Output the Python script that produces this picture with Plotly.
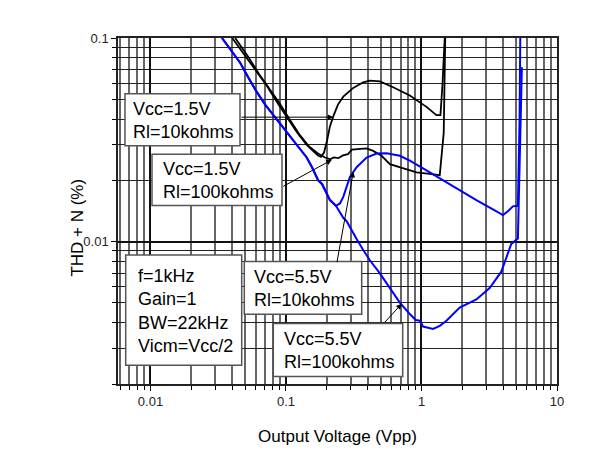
import math
import plotly.graph_objects as go

# ---------------- data (Vpp, THD+N %) ----------------
v15_10k_x = [0.0401, 0.05, 0.061, 0.0722, 0.0855, 0.1014, 0.1201, 0.1422, 0.1583, 0.1723, 0.1814,
             0.1908, 0.2008, 0.2112, 0.2234, 0.2419, 0.2647, 0.3135, 0.3715, 0.4162, 0.4931,
             0.6177, 0.82, 1.088, 1.29, 1.38, 1.427, 1.484]
v15_10k_y = [0.1, 0.0819, 0.0679, 0.0583, 0.0487, 0.0412, 0.0346, 0.0299, 0.028, 0.0265, 0.0261,
             0.0274, 0.0313, 0.0369, 0.0412, 0.0471, 0.0515, 0.0569, 0.0606, 0.0617, 0.0612,
             0.0573, 0.0522, 0.0459, 0.0418, 0.0418, 0.0583, 0.1]

v15_100k_x = [0.0422, 0.0526, 0.0634, 0.0751, 0.0889, 0.1054, 0.1249, 0.148, 0.1723, 0.194, 0.2112,
              0.226, 0.2431, 0.2633, 0.2866, 0.3067, 0.3513, 0.3936, 0.4401, 0.5076, 0.5842,
              0.692, 0.9188, 1.151, 1.364, 1.459, 1.497]
v15_100k_y = [0.1, 0.081, 0.0664, 0.0569, 0.0482, 0.0403, 0.0338, 0.0293, 0.0271, 0.0259, 0.0254,
              0.0259, 0.0257, 0.0265, 0.0269, 0.0283, 0.0284, 0.0287, 0.0279, 0.0264, 0.024,
              0.0232, 0.0219, 0.0215, 0.0212, 0.0342, 0.1]

v55_10k_x = [0.0337, 0.0375, 0.041, 0.0459, 0.0526, 0.061, 0.0702, 0.0808, 0.0952, 0.1134, 0.127,
             0.1422, 0.1557, 0.173, 0.1844, 0.2112, 0.2338, 0.2502, 0.2647, 0.2965, 0.3321,
             0.3936, 0.4662, 0.5525, 0.692, 0.82, 1.088, 1.442, 1.914, 2.541, 3.367, 3.989,
             4.342, 4.726, 5.145, 5.296, 5.358]
v55_10k_y = [0.1, 0.0905, 0.0829, 0.0756, 0.0642, 0.0542, 0.0471, 0.0418, 0.0361, 0.0312, 0.0283,
             0.0259, 0.0232, 0.02, 0.0192, 0.016, 0.015, 0.0154, 0.0166, 0.0208, 0.0232,
             0.0259, 0.0271, 0.0272, 0.0264, 0.025, 0.0224, 0.02, 0.0179, 0.016, 0.0144, 0.0135,
             0.0141, 0.0149, 0.015, 0.0403, 0.1]

v55_100k_x = [0.0337, 0.0375, 0.041, 0.0459, 0.0526, 0.061, 0.0702, 0.0808, 0.0952, 0.1134, 0.127,
              0.1422, 0.1557, 0.173, 0.1844, 0.2112, 0.2338, 0.2431, 0.2647, 0.2804, 0.3135,
              0.3321, 0.3696, 0.4162, 0.4931, 0.5842, 0.692, 0.82, 0.908, 0.9716, 1.0275,
              1.217, 1.364, 1.528, 1.914, 2.541, 3.184, 3.882, 4.226, 4.599, 5.145, 5.207, 5.506]
v55_100k_y = [0.1, 0.0905, 0.0829, 0.0756, 0.0642, 0.0542, 0.0471, 0.0418, 0.0361, 0.0312, 0.0283,
              0.0259, 0.0232, 0.02, 0.0192, 0.016, 0.015, 0.0144, 0.0131, 0.0126, 0.0109,
              0.0103, 0.00915, 0.0081, 0.00699, 0.00592, 0.00502, 0.00441, 0.00412, 0.00409, 0.00383,
              0.00373, 0.00386, 0.00409, 0.00475, 0.0052, 0.00592, 0.00712, 0.00826, 0.00975, 0.01037,
              0.0149, 0.0718]

x_tick_vals = [0.01, 0.1, 1, 10]
x_tick_text = ["0.01", "0.1", "1", "10"]
y_tick_vals = [0.01, 0.1]
y_tick_text = ["0.01", "0.1"]

x_title = "Output Voltage (Vpp)"
y_title = "THD + N (%)"
label_a = "Vcc=1.5V<br>Rl=10kohms"
label_b = "Vcc=1.5V<br>Rl=100kohms"
label_c = "Vcc=5.5V<br>Rl=10kohms"
label_d = "Vcc=5.5V<br>Rl=100kohms"
cond_text = "f=1kHz<br>Gain=1<br>BW=22kHz<br>Vicm=Vcc/2"

# ---------------- layout geometry ----------------
OFF = 8  # page body margin
W, H = 605 - OFF, 455 - OFF
PW, PH = 439, 354
ML, MT = 118 - OFF, 38 - OFF
MR, MB = W - ML - PW, H - MT - PH


def px(x):
    return (x - OFF - ML) / PW


def py(y):
    return (MT + PH - (y - OFF)) / PH


FONT = "Liberation Sans, Arial, sans-serif"

fig = go.Figure()
fig.add_trace(go.Scatter(x=v15_10k_x, y=v15_10k_y, mode="lines",
                         line=dict(color="black", width=1.8), showlegend=False))
fig.add_trace(go.Scatter(x=v15_100k_x, y=v15_100k_y, mode="lines",
                         line=dict(color="black", width=1.8), showlegend=False))
fig.add_trace(go.Scatter(x=v55_10k_x, y=v55_10k_y, mode="lines",
                         line=dict(color="#0000ff", width=2), showlegend=False))
fig.add_trace(go.Scatter(x=v55_100k_x, y=v55_100k_y, mode="lines",
                         line=dict(color="#0000ff", width=2), showlegend=False))

minor_x = [k * 10 ** e for e in range(-3, 1) for k in range(2, 10)]
minor_x = [v for v in minor_x if 0.0058 <= v <= 10]
minor_y = [k * 10 ** e for e in range(-3, -1) for k in range(2, 10)]

# boxes: (x0, y0, x1, y1, text_left, text) in reference pixels
boxes = [
    (125, 95, 240, 148.3, 130.5, label_a),
    (152, 157, 282, 209.3, 160.5, label_b),
    (125.7, 260, 241.7, 372.7, 135.5, cond_text),
    (244.3, 266.7, 361.7, 320.7, 251.5, label_c),
    (273.3, 330, 402.7, 384.3, 281.5, label_d),
]
shapes = []
annotations = []
for x0, y0, x1, y1, tl, txt in boxes:
    shapes.append(dict(type="rect", xref="paper", yref="paper",
                       x0=px(x0), x1=px(x1), y0=py(y1), y1=py(y0),
                       fillcolor="white", line=dict(color="#555555", width=1.5),
                       layer="above"))
    annotations.append(dict(xref="paper", yref="paper", x=px(tl), y=py((y0 + y1) / 2 + 1),
                            xanchor="left", yanchor="middle", align="left",
                            text=txt, showarrow=False,
                            font=dict(family=FONT, size=18, color="black")))

# arrows: head (x, y), tail (x, y) in reference pixels
arrows = [
    ((333.3, 119), (240, 119)),
    ((331.7, 162.7), (281.7, 190)),
    ((353.3, 175), (336.7, 266.7)),
    ((401.7, 310), (383.3, 330)),
]
for (hx, hy), (tx, ty) in arrows:
    annotations.append(dict(xref="paper", yref="paper", x=px(hx), y=py(hy),
                            ax=tx - hx, ay=ty - hy, axref="pixel", ayref="pixel",
                            text="", showarrow=True, arrowhead=2, arrowsize=1.1,
                            arrowwidth=1, arrowcolor="black", standoff=0))

# y axis title
annotations.append(dict(xref="paper", yref="paper", x=px(78), y=py(232),
                        xanchor="center", yanchor="middle", textangle=-90,
                        text=y_title, showarrow=False,
                        font=dict(family=FONT, size=17, color="black")))

fig.update_layout(
    width=W, height=H,
    margin=dict(l=ML, r=MR, t=MT, b=MB),
    paper_bgcolor="white", plot_bgcolor="white",
    font=dict(family=FONT, color="black"),
    shapes=shapes, annotations=annotations,
)
fig.update_xaxes(
    type="log", range=[math.log10(0.00576), 1],
    tickmode="array", tickvals=x_tick_vals, ticktext=x_tick_text,
    ticks="outside", ticklen=5, tickwidth=1, tickcolor="black",
    tickfont=dict(size=13, color="#222"),
    showgrid=True, gridcolor="#111", gridwidth=1.5,
    minor=dict(tickmode="array", tickvals=minor_x, ticks="outside", ticklen=4,
               tickcolor="black", showgrid=True, gridcolor="#666", gridwidth=1.5),
    showline=True, linecolor="#222", linewidth=1.5, mirror=True,
    title=dict(text=x_title, font=dict(size=17), standoff=22),
    zeroline=False,
)
fig.update_yaxes(
    type="log", range=[math.log10(0.002), -1],
    tickmode="array", tickvals=y_tick_vals, ticktext=y_tick_text,
    ticks="outside", ticklen=5, tickwidth=1, tickcolor="black",
    tickfont=dict(size=13, color="#222"),
    showgrid=True, gridcolor="#111", gridwidth=1.5,
    minor=dict(tickmode="array", tickvals=minor_y, ticks="outside", ticklen=4,
               tickcolor="black", showgrid=True, gridcolor="#222", gridwidth=1.3),
    showline=True, linecolor="#222", linewidth=1.5, mirror=True,
    zeroline=False,
)

fig.write_html("out.html")
